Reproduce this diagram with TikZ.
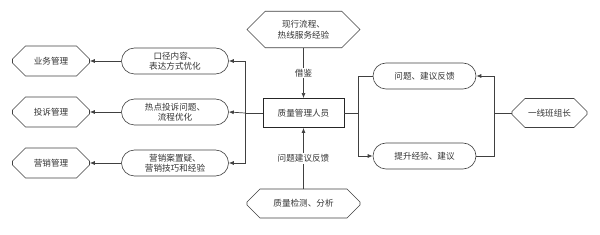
\documentclass[tikz,border=0pt]{standalone}
\usepackage{fontspec}
\setmainfont{Noto Sans CJK SC}
\usetikzlibrary{shapes.misc,arrows.meta}
\begin{document}
\begin{tikzpicture}[x=1pt,y=-1pt,
  every node/.style={font=\fontsize{8.6}{10.5}\selectfont, text=black!80, align=center, inner sep=1pt},
  oct/.style={draw=black!75, line width=0.6pt, chamfered rectangle, chamfered rectangle xsep=9pt, chamfered rectangle ysep=8pt, minimum width=77pt, minimum height=30pt},
  pill/.style={draw=black!75, line width=0.6pt, rounded rectangle, minimum width=108pt, minimum height=26pt},
  box/.style={draw=black!85, line width=0.9pt, rectangle, minimum width=81pt, minimum height=29pt},
  conn/.style={draw=black!75, line width=0.7pt},
  arr/.style={conn, -{Latex[length=5pt,width=4pt]}},
  lab/.style={fill=white, inner sep=1.5pt}]
\useasboundingbox (0,0) rectangle (600,235);
% left octagons
\node[oct] (yw) at (51,61) {业务管理};
\node[oct] (ts) at (51,112) {投诉管理};
\node[oct] (yx) at (51,163) {营销管理};
% left pills
\node[pill, minimum width=109pt] (p1) at (175,61) {口径内容、\\表达方式优化};
\node[pill, minimum width=109pt] (p2) at (175,112) {热点投诉问题、\\流程优化};
\node[pill, minimum width=109pt] (p3) at (175,163) {营销案置疑、\\营销技巧和经验};
% center
\node[box] (qm) at (303.5,113) {质量管理人员};
\node[oct, minimum width=113pt, minimum height=35pt, chamfered rectangle xsep=12pt] (top) at (303.5,29.5) {现行流程、\\热线服务经验};
\node[oct, minimum width=113pt, minimum height=29pt, chamfered rectangle xsep=12pt] (bot) at (303.5,203.5) {质量检测、分析};
% right
\node[pill, minimum width=105pt] (r1) at (424.5,76) {问题、建议反馈};
\node[pill, minimum width=105pt] (r2) at (424.5,156) {提升经验、建议};
\node[oct, minimum width=75pt, minimum height=29pt] (bz) at (549.5,113) {一线班组长};
% junctions
\coordinate (jl) at (245,113);
\coordinate (jr) at (358,113);
\coordinate (jrr) at (494,113);
% connectors
\draw[conn] (qm.west) -- (jl);
\draw[arr] (jl) |- (p1.east);
\draw[arr] (jl) -- (p2.east);
\draw[arr] (jl) |- (p3.east);
\draw[arr] (p1.west) -- (yw.east);
\draw[arr] (p2.west) -- (ts.east);
\draw[arr] (p3.west) -- (yx.east);
\draw[arr] (top.south) -- node[lab] {借鉴} (qm.north);
\draw[arr] (bot.north) -- node[lab] {问题建议反馈} (qm.south);
\draw[conn] (qm.east) -- (jr);
\draw[conn] (jr) |- (r1.west);
\draw[arr] (jr) |- (r2.west);
\draw[conn] (bz.west) -- (jrr);
\draw[arr] (jrr) |- (r1.east);
\draw[conn] (jrr) |- (r2.east);
\end{tikzpicture}
\end{document}
